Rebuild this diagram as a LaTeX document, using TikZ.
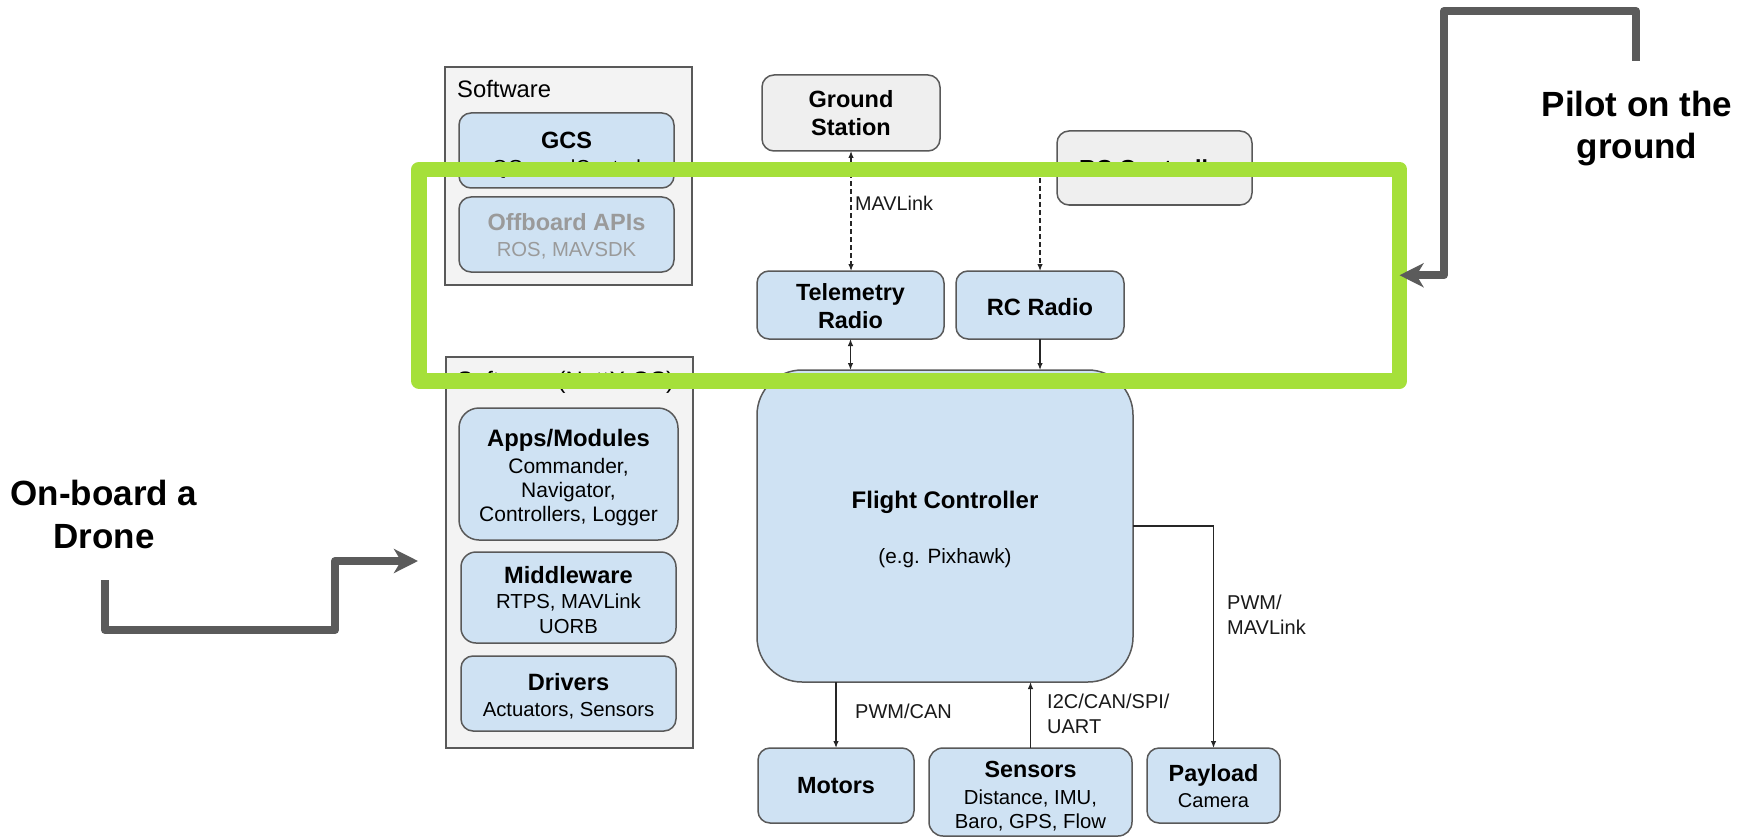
\documentclass[tikz,border=0pt]{standalone}
\usepackage{fontspec}
\setmainfont{Liberation Sans}
\usetikzlibrary{arrows.meta}
\definecolor{boxblue}{HTML}{CFE2F3}
\definecolor{boxline}{HTML}{595959}
\definecolor{contfill}{HTML}{F3F3F3}
\definecolor{gsfill}{HTML}{EFEFEF}
\definecolor{greenhl}{RGB}{165,224,58}
\definecolor{arrowgray}{HTML}{5B5B5B}
\definecolor{fadedtext}{HTML}{9A9A9A}
\newcommand{\fsz}[2]{\fontsize{#1}{#2}\selectfont}
\begin{document}
\begin{tikzpicture}[x=1pt,y=-1pt,
  bluebox/.style={draw=boxline, line width=1.5pt, fill=boxblue, rounded corners=12pt,
    inner sep=0pt, outer sep=0pt},
  graybox/.style={bluebox, fill=gsfill},
  container/.style={draw=boxline, line width=1.5pt, fill=contfill, inner sep=0pt, outer sep=0pt},
  txt/.style={inner sep=0pt, align=center, text=black},
  conn/.style={draw=black!85, line width=1.2pt},
  onetip/.style={-{Latex[length=7pt,width=5.5pt]}},
  twotip/.style={{Latex[length=7pt,width=5.5pt]}-{Latex[length=7pt,width=5.5pt]}},
  dashline/.style={dash pattern=on 5pt off 3pt},
  lbl/.style={inner sep=0pt, text=black!90},
  thickarrow/.style={draw=arrowgray, line width=8pt, line join=round,
    -{Stealth[length=24pt,width=24pt,inset=7pt]}},
  annot/.style={font=\fsz{35}{43}\bfseries, align=center, inner sep=0pt}
]
\fill[white] (0,0) rectangle (1739,837);
\useasboundingbox (0,0) rectangle (1739,837);

% containers
\node[container, minimum width=247pt, minimum height=218pt] (swc) at (568.5,176) {};
\node[anchor=west, inner sep=0pt, font=\fsz{23.8}{28}] (swlabel) at (457,89) {Software};
\node[container, minimum width=247pt, minimum height=391pt] (nxc) at (569.5,552.5) {};
\node[anchor=west, inner sep=0pt, font=\fsz{23.8}{28}] (nxlabel) at (457,382) {Software (NuttX OS)};

% software boxes
\node[bluebox, minimum width=215pt, minimum height=75pt] (gcs) at (566.5,150.5) {};
\node[txt, font=\fsz{20.3}{26}] (gcs-t) at (566.5,155)
  {{\fsz{23.5}{26}\bfseries GCS}\\QGroundControl};
\node[bluebox, minimum width=215pt, minimum height=75pt] (offb) at (566.5,234.5) {};
\node[txt, font=\fsz{20.3}{26}, text=fadedtext] (offb-t) at (566.5,236.5)
  {{\fsz{23.5}{26}\bfseries Offboard APIs}\\ROS, MAVSDK};
\node[bluebox, rounded corners=20pt, minimum width=219pt, minimum height=132pt] (apps) at (568.5,474) {};
\node[txt, font=\fsz{21}{24}] (apps-t) at (568.5,478)
  {{\fsz{23.8}{24}\bfseries Apps/Modules}\\[3pt]Commander,\\Navigator,\\Controllers, Logger};
\node[bluebox, rounded corners=15pt, minimum width=215pt, minimum height=91pt] (mid) at (568.5,597.5) {};
\node[txt, font=\fsz{20.3}{25}] (mid-t) at (568.5,600.5)
  {{\fsz{23.6}{25}\bfseries Middleware}\\RTPS, MAVLink\\UORB};
\node[bluebox, minimum width=215pt, minimum height=75pt] (drv) at (568.5,693.5) {};
\node[txt, font=\fsz{20.3}{26}] (drv-t) at (568.5,696.5)
  {{\fsz{23.6}{26}\bfseries Drivers}\\Actuators, Sensors};

% ground side
\node[graybox, minimum width=178pt, minimum height=76pt] (gs) at (851,113) {};
\node[txt, font=\fsz{23.5}{28}\bfseries] (gs-t) at (851,113) {Ground\\Station};
\node[graybox, minimum width=195pt, minimum height=74pt] (rcc) at (1154.5,168) {};
\node[txt, font=\fsz{23.2}{28}\bfseries] (rcc-t) at (1154.5,168) {RC Controller};
\node[bluebox, minimum width=187pt, minimum height=68pt] (tr) at (850.5,305) {};
\node[txt, font=\fsz{23.4}{28}\bfseries] (tr-t) at (850.5,306) {Telemetry\\Radio};
\node[bluebox, minimum width=168pt, minimum height=68pt] (rcr) at (1040,305) {};
\node[txt, font=\fsz{23.6}{28}\bfseries] (rcr-t) at (1040,307) {RC Radio};

% flight controller and peripherals
\node[bluebox, rounded corners=45pt, minimum width=376pt, minimum height=312pt] (fc) at (945,526) {};
\node[txt, font=\fsz{20.7}{27.5}] (fc-t) at (945,529)
  {{\fsz{24}{27.5}\bfseries Flight Controller}\\[27.5pt](e.g. Pixhawk)};
\node[bluebox, minimum width=156pt, minimum height=75pt] (mot) at (836,785.5) {};
\node[txt, font=\fsz{23.4}{27}\bfseries] (mot-t) at (836,786) {Motors};
\node[bluebox, rounded corners=14pt, minimum width=203pt, minimum height=88pt] (sen) at (1030.5,792) {};
\node[txt, font=\fsz{20.3}{24.5}] (sen-t) at (1030.5,796)
  {{\fsz{23.3}{24.5}\bfseries Sensors}\\[2.5pt]Distance, IMU,\\Baro, GPS, Flow};
\node[bluebox, minimum width=133pt, minimum height=75pt] (pay) at (1213.5,785.5) {};
\node[txt, font=\fsz{20}{26.5}] (pay-t) at (1213.5,786)
  {{\fsz{23.4}{26.5}\bfseries Payload}\\Camera};

% connectors
\draw[conn, twotip, dashline] (gs.south) -- (gs.south |- tr.north);
\coordinate (rcsrc) at (1040,170);
\draw[conn, onetip, dashline] (rcsrc) -- (rcr.north);
\draw[conn, twotip] (tr.south) -- (tr.south |- fc.north);
\draw[conn, onetip] (rcr.south) -- (rcr.south |- fc.north);
\draw[conn, onetip] (mot.north |- fc.south) -- (mot.north);
\draw[conn, onetip] (sen.north) -- (sen.north |- fc.south);
\draw[conn, onetip] (fc.east) -| (pay.north);

% connector labels
\node[lbl, anchor=west, font=\fsz{19.8}{24}] (lmav) at (855,203) {MAVLink};
\node[lbl, anchor=west, font=\fsz{20}{25}] (lpwm) at (855,711) {PWM/CAN};
\node[lbl, anchor=west, align=left, font=\fsz{20}{25}] (li2c) at (1047,714) {I2C/CAN/SPI/\\UART};
\node[lbl, anchor=west, align=left, font=\fsz{20}{25}] (lpm) at (1227,615) {PWM/\\MAVLink};

% highlight frame
\node[draw=greenhl, line width=15.5pt, line join=round, inner sep=0pt, outer sep=0pt,
  minimum width=980.5pt, minimum height=211.5pt] (hl) at (909.25,275.25) {};

% annotations
\node[annot] (onboard) at (104,514) {On-board a\\Drone};
\coordinate (ob0) at (105,580);
\coordinate (ob1) at (105,630);
\coordinate (ob2) at (335,630);
\coordinate (ob3) at (335,561);
\coordinate (obT) at (418,561);
\draw[thickarrow] (ob0) -- (ob1) -- (ob2) -- (ob3) -- (obT);

\node[annot, font=\fsz{35}{42}\bfseries] (pilot) at (1637,129) {Pilot on the\\ground};
\coordinate (pl0) at (1636,61);
\coordinate (pl1) at (1636,11);
\coordinate (pl2) at (1444,11);
\coordinate (pl3) at (1444,275.25);
\draw[thickarrow] (pl0) -- (pl1) -- (pl2) -- (pl3) -- (hl.east);
\end{tikzpicture}
\end{document}
